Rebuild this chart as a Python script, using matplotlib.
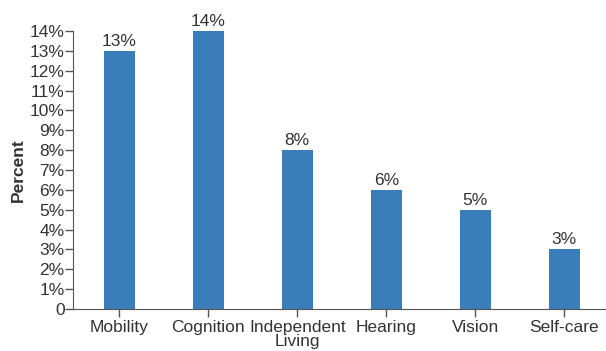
import numpy as np
import matplotlib.pyplot as plt

categories = ["Mobility", "Cognition", "Independent\nLiving", "Hearing", "Vision", "Self-care"]
values = [13, 14, 8, 6, 5, 3]
yticks = list(range(0, 15))
ytick_labels = ["0"] + [f"{v}%" for v in yticks[1:]]

plt.rcParams["font.family"] = ["Liberation Sans", "DejaVu Sans"]
txt = "#333333"
fs = 12.5

fig = plt.figure(figsize=(6.06, 3.51), dpi=100)
ax = fig.add_axes([0.1205, 0.1197, 0.8795, 0.792])

x = np.arange(len(categories))
ax.bar(x, values, width=0.35, color="#3a7dbb")
for xi, v in zip(x, values):
    ax.text(xi, v + 0.1, f"{v}%", ha="center", va="bottom", fontsize=fs, color=txt)

ax.set_xlim(-0.52, 5.47)
ax.set_ylim(0, 14)
ax.set_yticks(yticks)
ax.set_yticklabels(ytick_labels)
ax.set_xticks(x)
ax.set_xticklabels(categories, linespacing=0.95)
ax.tick_params(axis="both", direction="out", length=6, width=1, colors="#555555",
               labelcolor=txt, labelsize=fs, pad=0)
ax.tick_params(axis="x", pad=2)
for s in ["top", "right"]:
    ax.spines[s].set_visible(False)
for s in ["left", "bottom"]:
    ax.spines[s].set_color("#555555")
ax.set_ylabel("Percent", fontsize=fs, fontweight="bold", color=txt, labelpad=3)

fig.savefig("out.png", dpi=100)
